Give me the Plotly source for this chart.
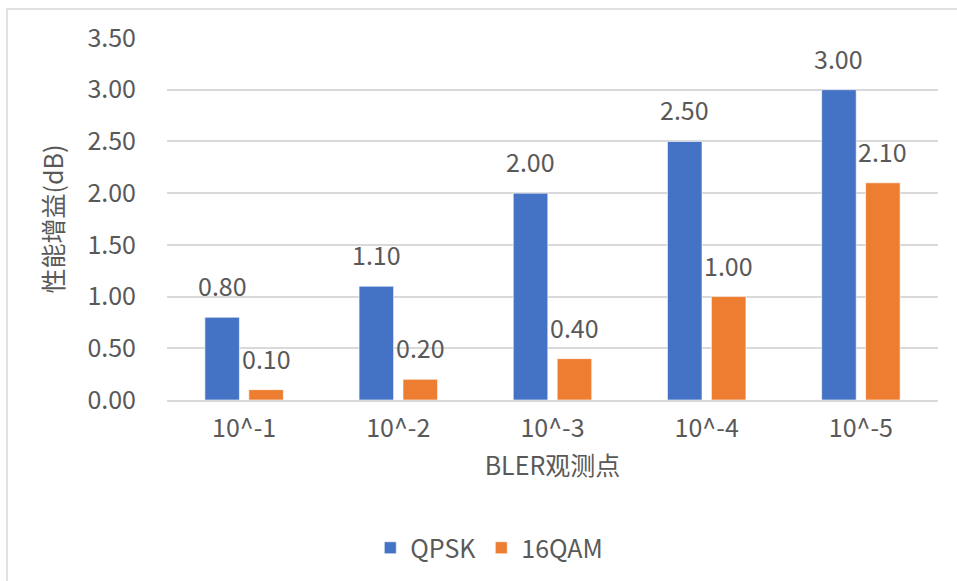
import plotly.graph_objects as go

categories = ["10^-1", "10^-2", "10^-3", "10^-4", "10^-5"]
qpsk = [0.80, 1.10, 2.00, 2.50, 3.00]
qam16 = [0.10, 0.20, 0.40, 1.00, 2.10]
series_names = ["QPSK", "16QAM"]
ytick_vals = [0, 0.5, 1.0, 1.5, 2.0, 2.5, 3.0, 3.5]
ytick_text = ["0.00", "0.50", "1.00", "1.50", "2.00", "2.50", "3.00", "3.50"]

FONT = "Noto Sans CJK SC, Roboto, sans-serif"
TXT = "#595959"
FS = 25
colors = ["#4472C4", "#ED7D31"]

fig = go.Figure()
for name, vals, col in zip(series_names, [qpsk, qam16], colors):
    fig.add_trace(go.Bar(
        x=categories, y=vals, name=name,
        marker=dict(color=col, line=dict(color="rgba(255,255,255,0.6)", width=1)),
    ))

annotations = []
for vals, shift in zip([qpsk, qam16], [-22, 22]):
    for c, v in zip(categories, vals):
        annotations.append(dict(
            x=c, y=v, xref="x", yref="y", text=f"{v:.2f}", showarrow=False,
            xshift=shift, yshift=32, yanchor="middle",
            font=dict(family=FONT, size=FS, color=TXT),
        ))

fig.update_layout(
    width=957, height=581,
    margin=dict(l=167, r=19, t=38, b=180),
    paper_bgcolor="white", plot_bgcolor="white",
    barmode="group", bargap=0.43, bargroupgap=0.214,
    font=dict(family=FONT, size=FS, color=TXT),
    xaxis=dict(
        showgrid=False, showline=True, linecolor="#d9d9d9", linewidth=1.5,
        ticks="", tickfont=dict(size=FS, color=TXT), ticklabelstandoff=5,
        title=dict(text="BLER观测点", font=dict(size=FS, color=TXT), standoff=15),
    ),
    yaxis=dict(
        range=[0, 3.5], tickvals=ytick_vals, ticktext=ytick_text,
        showgrid=True, gridcolor="#d9d9d9", gridwidth=1.5,
        zeroline=False, showline=False, ticks="",
        tickfont=dict(size=FS, color=TXT), ticklabelstandoff=30,
        title=dict(text="性能增益(dB)", font=dict(size=FS, color=TXT), standoff=16),
    ),
    legend=dict(
        orientation="h", x=0.418, xanchor="center", y=-0.405, yanchor="middle",
        font=dict(size=FS, color=TXT), itemwidth=30,
    ),
    annotations=annotations,
    shapes=[dict(
        type="rect", xref="paper", yref="paper",
        x0=-0.2075, x1=1.2, y0=-0.7, y1=1.0799,
        line=dict(color="#d9d9d9", width=1.5), fillcolor="rgba(0,0,0,0)",
    )],
)

fig.write_html("out.html", config={"displayModeBar": False},
               post_script="document.body.style.margin='0';")
